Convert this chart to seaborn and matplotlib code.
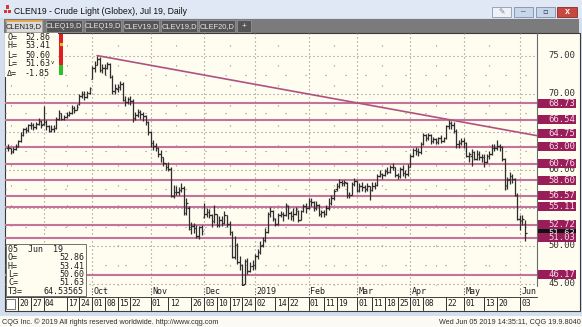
import matplotlib
matplotlib.use("Agg")
import matplotlib.pyplot as plt
import matplotlib.transforms as mtrans
from matplotlib.patches import Rectangle
from matplotlib.lines import Line2D
import numpy as np
import pandas as pd
import seaborn as sns

# ---------------- data ----------------
start_date = "2018-08-14"
end_date = "2019-06-05"
holidays = ["2018-09-03", "2018-11-22", "2018-12-25", "2019-01-01",
            "2019-01-21", "2019-02-18", "2019-04-19", "2019-05-27"]

opens = [62.8, 62.8, 62.4, 62.7,
         63.1, 63.7, 64.5, 65.3, 65.2,
         65.8, 65.9, 65.6, 66.0, 66.4,
         66.0, 66.2, 65.7, 65.1,
         65.3, 65.5, 66.6, 67.4, 66.7,
         66.9, 67.2, 67.4, 68.1, 67.9,
         68.6, 69.7, 70.0, 69.6, 70.1,
         71.9, 73.3, 73.8, 74.6, 73.1,
         73.3, 73.4, 73.9, 72.2, 70.4,
         70.6, 70.9, 71.2, 69.2, 68.9,
         69.3, 69.0, 66.8, 67.2, 67.6,
         67.3, 67.0, 66.3, 64.9, 63.5,
         63.1, 62.9, 62.1, 61.6, 60.8,
         60.3, 60.1, 56.5, 57.1, 57.0,
         57.3, 57.6, 54.3, 55.0,
         52.2, 52.6, 52.3, 51.3, 52.4,
         53.7, 54.1, 54.4, 54.0, 53.2,
         54.2, 52.7, 53.4, 53.0, 54.0,
         52.8, 51.8, 48.5, 50.1, 47.9,
         47.5, 45.0, 48.0, 46.7,
         47.3, 47.5, 48.6, 49.1,
         50.1, 50.7, 51.8, 54.2, 54.5,
         53.5, 52.9, 54.0, 54.2, 54.0,
         55.2, 54.3, 53.9, 54.2,
         54.6, 53.4, 54.5, 55.2, 54.9,
         55.8, 55.7, 55.0, 55.3, 54.2,
         54.4, 54.1, 54.9, 55.6, 56.2,
         57.4, 57.8, 58.4, 58.2,
         58.2, 56.6, 56.7, 58.1, 58.5,
         57.3, 57.8, 57.7, 57.4, 57.8,
         57.3, 57.9, 58.0, 59.2, 59.4,
         59.3, 59.8, 59.7, 60.3, 60.3,
         59.3, 59.1, 60.1, 59.5, 59.4,
         60.4, 61.8, 62.6, 62.5, 62.3,
         63.3, 64.5, 64.1, 64.6, 63.7,
         64.0, 63.6, 64.1, 63.8,
         64.1, 65.7, 66.1, 65.8, 65.1,
         63.3, 63.5, 63.8, 63.5, 61.8,
         61.8, 62.3, 61.4, 62.1, 61.7,
         61.6, 61.0, 61.8, 62.1, 62.9,
         62.9, 63.1, 63.0, 61.4, 58.0,
         58.7, 59.1, 58.8, 56.6,
         53.5, 53.2, 52.86]

highs = [63.3, 62.9, 63.0, 63.3,
         63.9, 64.9, 65.5, 65.6, 66.0,
         66.2, 66.1, 66.3, 66.8, 66.5,
         68.4, 66.5, 65.8, 65.8,
         65.9, 66.9, 67.8, 67.4, 67.2,
         67.6, 67.7, 68.5, 68.4, 68.6,
         69.9, 70.3, 70.4, 70.3, 70.9,
         73.6, 74.3, 75.0, 74.8, 73.9,
         73.9, 74.1, 74.0, 72.5, 71.3,
         71.3, 71.6, 71.5, 69.7, 69.6,
         69.7, 69.3, 67.6, 68.0, 67.8,
         67.6, 67.2, 66.4, 65.1, 63.9,
         63.5, 63.0, 62.6, 61.7, 60.9,
         61.0, 60.4, 58.0, 57.8, 57.7,
         58.2, 57.9, 56.2, 55.2,
         53.1, 53.0, 52.7, 52.6, 52.7,
         55.6, 55.0, 54.8, 54.2, 55.3,
         54.2, 53.9, 53.9, 54.5, 54.0,
         53.2, 51.9, 51.2, 50.3, 48.6,
         47.6, 48.2, 48.4, 47.8,
         48.1, 48.9, 49.6, 50.6,
         51.1, 52.3, 54.4, 55.1, 54.7,
         53.6, 54.3, 54.6, 54.4, 55.6,
         55.4, 54.6, 54.9, 55.1,
         54.7, 54.7, 55.5, 55.6, 56.2,
         56.3, 55.8, 55.8, 55.5, 54.7,
         54.7, 55.3, 56.2, 56.6, 57.5,
         58.2, 58.8, 58.6, 58.6,
         58.4, 57.1, 58.3, 58.9, 58.6,
         58.2, 58.3, 58.0, 58.2, 57.9,
         58.3, 58.4, 59.4, 59.9, 59.6,
         60.1, 60.3, 60.6, 60.9, 60.3,
         59.6, 60.4, 60.6, 59.9, 60.7,
         62.0, 62.9, 63.0, 62.8, 63.6,
         64.8, 64.7, 64.8, 64.7, 64.3,
         64.1, 64.3, 64.5, 64.3,
         65.9, 66.5, 66.4, 66.2, 65.3,
         63.9, 64.2, 64.2, 63.6, 62.3,
         62.7, 62.4, 62.6, 62.4, 62.1,
         62.0, 62.0, 62.4, 63.3, 63.3,
         63.9, 63.4, 63.1, 61.5, 59.0,
         59.7, 59.4, 58.9, 56.9,
         54.0, 54.0, 53.41]

lows = [62.5, 62.0, 62.2, 62.6,
        63.0, 63.6, 64.4, 64.8, 65.0,
        65.4, 65.2, 65.4, 65.8, 65.5,
        65.9, 65.2, 64.9, 65.0,
        65.0, 65.4, 66.5, 66.5, 66.5,
        66.8, 67.0, 67.3, 67.4, 67.8,
        68.5, 69.4, 69.1, 69.4, 69.9,
        71.9, 72.9, 73.7, 72.8, 72.7,
        72.5, 73.2, 72.0, 70.0, 70.0,
        70.2, 70.5, 69.0, 68.4, 68.6,
        68.5, 66.3, 66.5, 66.9, 66.6,
        66.4, 65.9, 64.5, 63.0, 62.6,
        62.4, 61.6, 61.0, 60.5, 59.9,
        59.8, 56.4, 56.2, 56.7, 56.6,
        57.0, 54.0, 54.0, 52.0,
        51.5, 51.6, 51.0, 50.8, 51.4,
        53.6, 53.7, 53.6, 52.4, 53.0,
        52.4, 52.5, 52.6, 52.9, 52.5,
        51.4, 48.3, 48.2, 47.6, 46.8,
        44.4, 44.9, 46.3, 46.5,
        46.8, 46.9, 48.2, 48.9,
        49.8, 50.5, 51.7, 53.8, 53.2,
        52.6, 52.7, 53.7, 53.2, 53.9,
        53.5, 53.3, 53.2, 54.0,
        53.1, 53.3, 54.4, 54.3, 54.8,
        55.2, 54.6, 54.7, 53.9, 53.7,
        53.7, 54.0, 54.7, 55.4, 56.0,
        57.2, 57.6, 57.8, 57.8,
        56.3, 56.2, 56.6, 57.8, 57.0,
        57.0, 57.2, 57.0, 57.2, 56.0,
        57.2, 57.5, 57.8, 59.0, 58.8,
        59.1, 59.4, 59.6, 59.9, 59.0,
        58.7, 58.9, 59.1, 58.9, 59.2,
        60.3, 61.6, 61.9, 61.8, 62.1,
        63.2, 63.8, 63.9, 63.3, 63.5,
        63.3, 63.4, 63.5, 63.6,
        64.0, 65.4, 65.3, 64.8, 62.9,
        62.9, 63.2, 62.9, 61.6, 61.0,
        60.5, 61.2, 61.3, 61.3, 61.0,
        60.3, 60.9, 61.4, 61.9, 62.4,
        62.6, 62.4, 61.1, 57.3, 57.5,
        58.1, 58.2, 56.5, 53.4,
        52.1, 52.7, 50.60]

closes = [62.9, 62.3, 62.7, 63.0,
          63.7, 64.5, 65.3, 65.2, 65.8,
          65.9, 65.6, 66.0, 66.4, 65.9,
          66.2, 65.7, 65.1, 65.3,
          65.5, 66.6, 67.4, 66.7, 66.9,
          67.2, 67.4, 68.1, 67.9, 68.2,
          69.7, 70.0, 69.6, 70.1, 70.7,
          73.3, 73.8, 74.6, 73.1, 73.3,
          73.4, 73.9, 72.2, 70.4, 70.7,
          70.9, 71.2, 69.2, 68.9, 69.3,
          69.0, 66.8, 67.2, 67.6, 67.3,
          67.0, 66.3, 64.9, 63.5, 63.1,
          62.9, 62.1, 61.6, 60.8, 60.3,
          60.1, 56.5, 57.1, 57.0, 57.3,
          57.6, 54.3, 55.6, 52.4,
          52.6, 52.3, 51.3, 52.4, 51.9,
          54.1, 54.4, 54.0, 53.2, 54.2,
          52.7, 53.4, 53.0, 54.0, 52.8,
          51.8, 48.5, 50.1, 47.9, 47.5,
          44.8, 48.0, 46.7, 47.3,
          47.5, 48.6, 49.1, 50.0,
          50.7, 51.8, 54.2, 54.5, 53.6,
          52.9, 54.0, 54.2, 54.0, 55.3,
          54.3, 53.9, 54.2, 54.8,
          53.4, 54.5, 55.2, 54.9, 55.8,
          55.7, 55.0, 55.3, 54.2, 54.4,
          54.1, 54.9, 55.6, 56.2, 57.2,
          57.8, 58.4, 58.2, 58.3,
          56.6, 56.7, 58.1, 58.5, 57.2,
          57.8, 57.7, 57.4, 57.8, 57.3,
          57.9, 58.0, 59.2, 59.4, 59.3,
          59.8, 59.7, 60.3, 60.3, 59.3,
          59.1, 60.1, 59.5, 59.4, 60.3,
          61.8, 62.6, 62.5, 62.3, 63.3,
          64.5, 64.1, 64.6, 63.7, 64.0,
          63.6, 64.1, 63.8, 64.1,
          65.7, 66.1, 65.8, 65.1, 63.3,
          63.5, 63.8, 63.5, 61.8, 62.0,
          62.3, 61.4, 62.1, 61.7, 61.7,
          61.0, 61.8, 62.1, 62.9, 62.8,
          63.1, 63.0, 61.4, 57.9, 58.6,
          59.1, 58.8, 56.6, 53.5,
          53.3, 53.48, 51.63]

levels = [68.73, 66.54, 63.00, 60.76, 58.60, 56.57, 55.11, 52.72, 51.03, 46.17]
trend_label = 64.75
price_ticks = [75, 70, 65, 60, 55, 50, 45]
t3_value = "64.53565"

month_ticks = ["2018-10-01", "2018-11-01", "2018-12-03", "2019-01-02", "2019-02-01",
               "2019-03-01", "2019-04-01", "2019-05-01", "2019-06-03"]
month_names = ["Oct", "Nov", "Dec", "2019", "Feb", "Mar", "Apr", "May", "Jun"]
grid_months = ["2018-09-04"] + month_ticks
mid_months = ["2018-08-15", "2018-09-17", "2018-10-15", "2018-11-15", "2018-12-17",
              "2019-01-15", "2019-02-15", "2019-03-15", "2019-04-15", "2019-05-15"]
day_ticks = ["2018-08-20", "2018-08-27", "2018-09-04", "2018-09-17", "2018-09-24",
             "2018-10-01", "2018-10-08", "2018-10-15", "2018-10-22", "2018-11-01",
             "2018-11-12", "2018-11-26", "2018-12-03", "2018-12-10", "2018-12-17",
             "2018-12-24", "2019-01-02", "2019-01-14", "2019-01-22", "2019-02-01",
             "2019-02-11", "2019-02-19", "2019-03-01", "2019-03-11", "2019-03-18",
             "2019-03-25", "2019-04-01", "2019-04-08", "2019-04-22", "2019-05-01",
             "2019-05-13", "2019-05-20", "2019-06-03"]
tabs = ["CLEN19,D", "CLEQ19,D", "CLEQ19,D", "CLEV19,D", "CLEV19,D", "CLEF20,D"]

# ---------------- setup ----------------
sns.set_style("white")
plt.rcParams["font.family"] = ["Liberation Sans", "DejaVu Sans"]
MONO = "DejaVu Sans Mono"

W, H = 582, 327
fig = plt.figure(figsize=(W / 100, H / 100), dpi=100)
fig.patch.set_facecolor("#d3dfee")

def fx(x):
    return x / W

def fy(y):
    return 1 - y / H

def rect(x, y, w, h, fc, ec="none", lw=0.0, z=-5):
    fig.patches.append(Rectangle((fx(x), fy(y + h)), w / W, h / H, transform=fig.transFigure,
                                 facecolor=fc, edgecolor=ec, linewidth=lw, zorder=z))

def ftext(x, y, s, **kw):
    kw.setdefault("va", "center")
    kw.setdefault("zorder", 6)
    fig.text(fx(x), fy(y), s, **kw)

def fline(x0, y0, x1, y1, color, lw=0.8, z=4, ls="-"):
    fig.lines.append(Line2D([fx(x0), fx(x1)], [fy(y0), fy(y1)], transform=fig.transFigure,
                            color=color, lw=lw, zorder=z, linestyle=ls))

CREAM = "#fffcf0"

# window chrome
rect(0, 0, W, 18, "#dfe8f4")
for (ix, iy) in [(4, 12.5), (8, 12.5), (6, 8.5)]:
    fig.patches.append(Rectangle((fx(ix), fy(iy)), 3 / W, 3 / H, transform=fig.transFigure,
                                 fc="#d23a3a", ec="none", zorder=2))
ftext(14, 11.5, "CLEN19 - Crude Light (Globex), Jul 19, Daily", fontsize=6.2, color="#101010")
rect(492, 6.5, 19, 10, "#eef2f7", ec="#8a99b0", lw=0.6, z=1)
ftext(501.5, 11.5, "✎", fontsize=5.5, color="#808080", ha="center", family="DejaVu Sans")
rect(514, 6.5, 19, 10, "#c8d6ea", ec="#7d8fab", lw=0.6, z=1)
ftext(523.5, 12, "–", fontsize=6, color="#2a3550", ha="center")
rect(536, 6.5, 19, 10, "#c8d6ea", ec="#7d8fab", lw=0.6, z=1)
ftext(545.5, 11.5, "▫", fontsize=6, color="#2a3550", ha="center", family="DejaVu Sans")
rect(557, 6.5, 20, 10, "#c8473f", ec="#8a2a25", lw=0.6, z=1)
ftext(567, 11.5, "x", fontsize=6.5, color="white", ha="center", weight="bold")

# tab strip
rect(4, 19, 575, 13.5, "#7b7b7b")
tab_x = [6, 46, 85, 123, 161, 199]
for i, (t, x0) in enumerate(zip(tabs, tab_x)):
    if i == 0:
        rect(x0, 20.5, 36, 11.5, "#d9d9d9", ec="#a0a0a0", lw=0.5, z=1)
        fline(x0, 20.7, x0 + 36, 20.7, "#eba23a", lw=1.2, z=2)
        ftext(x0 + 18, 26.5, t, fontsize=5.4, color="#202020", ha="center")
    else:
        rect(x0, 20.5, 36, 11.5, "#555555", ec="#9a9a9a", lw=0.5, z=1)
        ftext(x0 + 18, 26.5, t, fontsize=5.4, color="#e6e6e6", ha="center")
rect(237, 20.5, 14, 11.5, "#555555", ec="#9a9a9a", lw=0.5, z=1)
ftext(244, 26.3, "+", fontsize=6, color="#e6e6e6", ha="center")

# chart panel
rect(4.5, 32.5, 575, 278.5, CREAM, ec="#3a3a3a", lw=0.8, z=-4)
# footer
rect(0, 316, W, 11, "#fbfaf4")
ftext(2, 322, "CQG Inc. © 2019 All rights reserved worldwide. http://www.cqg.com",
      fontsize=5.2, color="#303030")
ftext(581, 322, "Wed Jun 05 2019 14:35:11, CQG 19.9.8040", fontsize=5.2, color="#303030", ha="right")

# ---------------- main axes ----------------
dates = pd.bdate_range(start_date, end_date, freq="C", holidays=holidays)
n = min(len(dates), len(closes))
dates = dates[:n]
df = pd.DataFrame({"date": dates, "open": opens[:n], "high": highs[:n],
                   "low": lows[:n], "close": closes[:n]})
df["i"] = np.arange(n)

def pos(d):
    return int(dates.get_indexer([pd.Timestamp(d)], method="bfill")[0])

XL = (-1.18, 207.7)
YL = (44.68, 77.97)
ax = fig.add_axes([fx(5), fy(286), (537 - 5) / W, (286 - 33) / H])
ax.set_facecolor(CREAM)

DOT = "#8c8c8c"
for p in price_ticks:
    ax.axhline(p, color=DOT, lw=0.8, ls=(0, (1, 2.6)), zorder=1)
for p in price_ticks[:-1]:
    ax.axhline(p - 2.5, color=DOT, lw=0.8, ls=(0, (1, 17)), zorder=1)
for d in grid_months:
    ax.axvline(pos(d), color=DOT, lw=0.8, ls=(0, (1, 2.6)), zorder=1)
for d in mid_months:
    ax.axvline(pos(d), color=DOT, lw=0.8, ls=(0, (1, 17)), zorder=1)

LVL = "#c4739b"
for lv in levels:
    ax.axhline(lv, color=LVL, lw=1.5, zorder=2)

# trend line from the October high through the last-bar value
pk = int(np.argmax(df["high"].values))
x_last = df["i"].iloc[-1]
slope = (trend_label - df["high"].iloc[pk]) / (x_last - pk)
x_end = XL[1]
trend = pd.DataFrame({"x": [pk, x_end],
                      "y": [df["high"].iloc[pk], df["high"].iloc[pk] + slope * (x_end - pk)]})
sns.lineplot(data=trend, x="x", y="y", ax=ax, color="#b0527f", lw=1.2, zorder=3)

BAR = "#2e2e2e"
ax.vlines(df["i"], df["low"], df["high"], color=BAR, lw=0.9, zorder=4)
ax.hlines(df["open"], df["i"] - 0.6, df["i"], color=BAR, lw=0.9, zorder=4)
ax.hlines(df["close"], df["i"], df["i"] + 0.6, color=BAR, lw=0.9, zorder=4)
ax.set_xlim(*XL)
ax.set_ylim(*YL)
ax.axis("off")

# separator between plot and price scale
fline(537, 33, 537, 286, "#6a6a6a", lw=0.8)

# ---------------- price scale ----------------
ax2 = fig.add_axes([fx(537.5), fy(286), 42 / W, (286 - 33) / H])
ax2.set_facecolor(CREAM)
ax2.set_ylim(*YL)
ax2.set_xlim(0, 1)
ax2.axis("off")
tr = mtrans.blended_transform_factory(ax2.transAxes, ax2.transData)
BOXH = 1.2
box_vals = sorted(levels + [trend_label], reverse=True)
for p in price_ticks:
    # plain grid labels that sit fully under a level box are not visible
    if min(abs(p - b) for b in box_vals) < 0.35:
        continue
    ax2.text(0.9, p, f"{p:.2f}", transform=tr, ha="right", va="center",
             fontsize=6.4, family=MONO, color="#303030", zorder=2)

def label_box(val, fc, tc, z):
    ax2.add_patch(Rectangle((0.02, val - BOXH / 2), 0.89, BOXH, transform=tr,
                            facecolor=fc, edgecolor="none", zorder=z))
    ax2.text(0.9, val, f"{val:.2f}", transform=tr, ha="right", va="center",
             fontsize=6.4, family=MONO, color=tc, zorder=z + 0.5)

label_box(closes[-1], "#111111", "#e0e0e0", 3)
for k, lv in enumerate(box_vals):
    label_box(lv, "#981d59", "#f6dbe8", 4 + k)

# ---------------- info boxes ----------------
rect(5.3, 33.3, 53, 44, CREAM, z=2)
info_lbl = ["O=", "H=", "L=", "L=", "Δ="]
info_val = [f"{opens[-1]:.2f}", f"{highs[-1]:.2f}", f"{lows[-1]:.2f}", f"{closes[-1]:.2f}",
            f"{closes[-1] - closes[-2]:.2f}"]
for r, (a, b) in enumerate(zip(info_lbl, info_val)):
    yy = 37 + 9 * r
    ftext(7, yy, a, fontsize=6, family=MONO, color="#202020")
    ftext(50, yy, b, fontsize=6, family=MONO, color="#202020", ha="right")
ftext(51, 62, "v", fontsize=4, family=MONO, color="#202020")
rect(59, 34, 4, 31, "#e02020", z=3)
rect(59, 65, 4, 10, "#2cc02c", z=3)
rect(59.5, 42.5, 3, 3, "#d8c030", z=4)

rect(5.5, 244, 80, 52, CREAM, ec="#707070", lw=0.7, z=2)
box_lbl = ["O=", "H=", "L=", "C=", "T3="]
box_val = [f"{opens[-1]:.2f}", f"{highs[-1]:.2f}", f"{lows[-1]:.2f}", f"{closes[-1]:.2f}", t3_value]
last = dates[-1]
ftext(8, 249.5, last.strftime("%d  %b  %y"), fontsize=6, family=MONO, color="#202020")
for r, (a, b) in enumerate(zip(box_lbl, box_val)):
    yy = 257.8 + 8.3 * r
    ftext(8, yy, a, fontsize=6, family=MONO, color="#202020")
    ftext(84, yy, b, fontsize=6, family=MONO, color="#202020", ha="right")

# ---------------- date axis ----------------
trx = mtrans.blended_transform_factory(ax.transData, fig.transFigure)
for d, name in zip(month_ticks, month_names):
    xi = pos(d)
    ax.plot([xi, xi], [fy(287.5), fy(295)], transform=trx, color="#555555", lw=0.8,
            ls=(0, (1, 1.5)), clip_on=False, zorder=5)
    ax.text(xi + 0.6, fy(291.5), name, transform=trx, fontsize=6, family=MONO,
            color="#202020", va="center", ha="left", clip_on=False, zorder=5)
fline(5, 297, 537, 297, "#404040", lw=0.7)
fline(5, 310.5, 579, 310.5, "#404040", lw=0.7)
rect(6, 299, 8.5, 10, "white", ec="#606060", lw=0.6, z=5)
for d in day_ticks:
    xi = pos(d)
    ax.plot([xi, xi], [fy(297), fy(310)], transform=trx, color="#303030", lw=0.7,
            clip_on=False, zorder=5)
    ax.text(xi + 0.5, fy(304), pd.Timestamp(d).strftime("%d"), transform=trx, fontsize=5.8,
            family=MONO, color="#202020", va="center", ha="left", clip_on=False, zorder=5)

fig.savefig("out.png", dpi=100, facecolor=fig.get_facecolor())
